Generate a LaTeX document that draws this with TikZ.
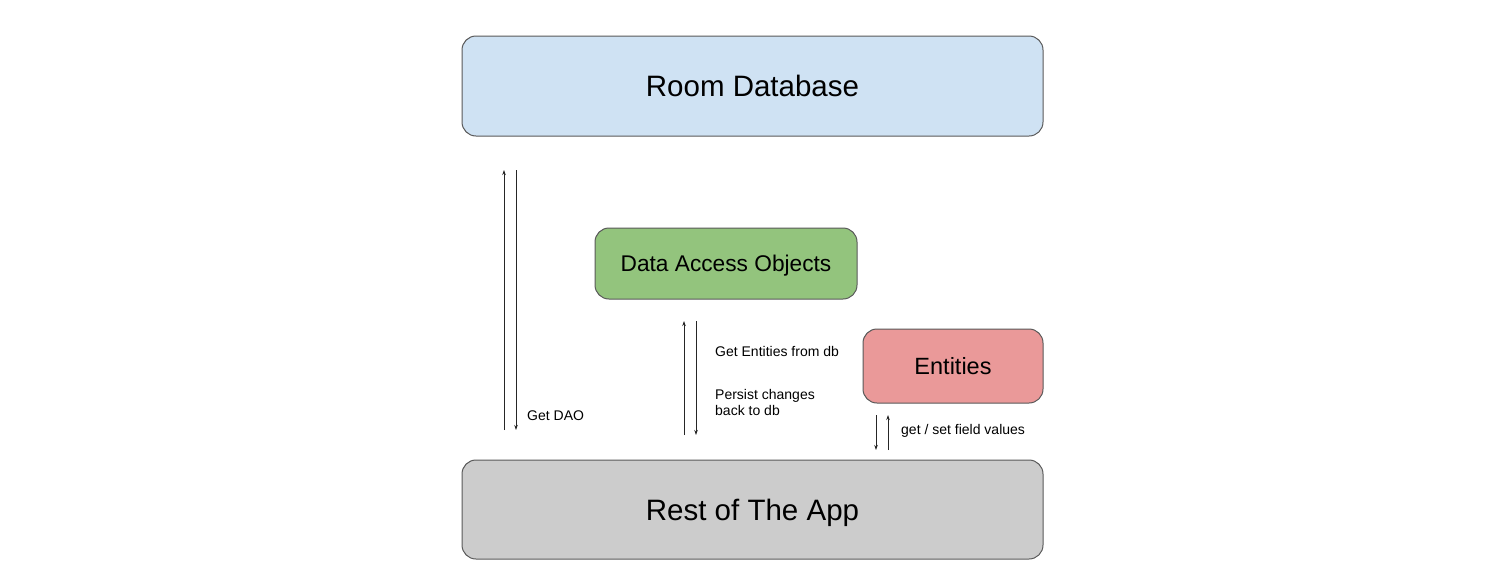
\documentclass[tikz,border=0pt]{standalone}
\usepackage{fontspec}
\setmainfont{Liberation Sans}
\usetikzlibrary{arrows.meta}

\definecolor{dbblue}{HTML}{CFE2F3}
\definecolor{daogreen}{HTML}{93C47D}
\definecolor{entred}{HTML}{EA9999}
\definecolor{appgray}{HTML}{CCCCCC}
\definecolor{edge}{HTML}{595959}

\begin{document}
\begin{tikzpicture}[x=1pt,y=-1pt,
 box/.style={rectangle,rounded corners=14pt,draw=edge,line width=1pt,inner sep=0pt,
  font=\fontsize{#1}{#1}\selectfont,text depth=0pt,text height=0.716*#1 pt},
 lbl/.style={font=\fontsize{14}{16}\selectfont,inner sep=0pt,align=left},
 arr/.style={-{Stealth[length=5pt,width=3.5pt]},line width=0.8pt,black!85}]
\useasboundingbox (0,0) rectangle (1487,587);
\node[box=29.5,fill=dbblue,minimum width=581pt,minimum height=100pt] (room) at (752.5,86) {Room Database};
\node[box=22.7,fill=daogreen,minimum width=262pt,minimum height=71pt] (dao) at (726,263.5) {Data Access Objects};
\node[box=23.5,fill=entred,minimum width=180pt,minimum height=74pt] (ent) at (953,366) {Entities};
\node[box=29.5,fill=appgray,minimum width=581pt,minimum height=99pt] (app) at (752.5,509.5) {Rest of The App};
% arrow ends
\coordinate (a1) at (504,430); \coordinate (a2) at (504,170);
\coordinate (b1) at (516,170); \coordinate (b2) at (516,430);
\coordinate (c1) at (684,435); \coordinate (c2) at (684,321);
\coordinate (d1) at (696,321); \coordinate (d2) at (696,435);
\coordinate (e1) at (876,415); \coordinate (e2) at (876,450);
\coordinate (f1) at (888,450); \coordinate (f2) at (888,415);
\draw[arr] (a1)--(a2);
\draw[arr] (b1)--(b2);
\draw[arr] (c1)--(c2);
\draw[arr] (d1)--(d2);
\draw[arr] (e1)--(e2);
\draw[arr] (f1)--(f2);
% labels
\node[lbl,anchor=west] (getdao) at (527,416) {Get DAO};
\node[lbl,anchor=west] (getent) at (715,351) {Get Entities from db};
\node[lbl,anchor=north west] (persist) at (715,389.5) {Persist changes\\back to db};
\node[lbl,anchor=west] (getset) at (901,431) {get / set field values};
\end{tikzpicture}
\end{document}
